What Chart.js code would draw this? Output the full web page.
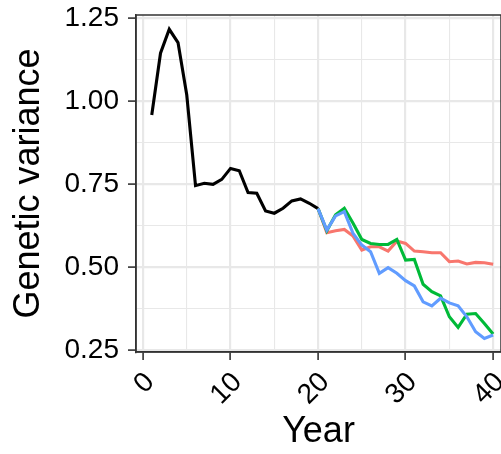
<!DOCTYPE html>
<html>
<head>
<title>Genetic variance</title>
<style>
  body { margin: 0; background: #fff; }
  canvas { display: block; }
</style>
<script src="https://cdn.jsdelivr.net/npm/chart.js"></script>
</head>
<body>
<canvas id="chart" width="501" height="454"></canvas>
<script>
// data
const baseYears = [1,2,3,4,5,6,7,8,9,10,11,12,13,14,15,16,17,18,19,20];
const baseVar = [0.958,1.144,1.216,1.176,1.018,0.745,0.752,0.749,0.764,0.797,
                 0.790,0.724,0.722,0.669,0.662,0.677,0.699,0.705,0.692,0.676];
const futureYears = [20,21,22,23,24,25,26,27,28,29,30,31,32,33,34,35,36,37,38,39,40];
const redVar = [0.676,0.603,0.609,0.613,0.593,0.551,0.561,0.561,0.548,0.578,0.571,
                0.548,0.546,0.543,0.543,0.516,0.518,0.509,0.514,0.513,0.508];
const greenVar = [0.676,0.609,0.657,0.677,0.632,0.583,0.571,0.568,0.568,0.583,0.521,
                  0.523,0.448,0.426,0.413,0.350,0.318,0.358,0.360,0.330,0.298];
const blueVar = [0.676,0.611,0.654,0.667,0.601,0.566,0.546,0.481,0.498,0.481,0.459,
                 0.443,0.395,0.383,0.406,0.392,0.383,0.350,0.305,0.285,0.295];
const xTicks = [0,5,10,15,20,25,30,35,40];
const yTicks = [0.25,0.375,0.5,0.625,0.75,0.875,1.0,1.125,1.25];

function pts(xs, ys) {
    return xs.map((x, i) => ({x: x, y: ys[i]}));
}

const fontFam = "'Liberation Sans', Arial, sans-serif";
const gridCol = "#e8e8e8";
const darkCol = "#333333";

const panelBox = {
    id: "panelBox",
    afterDraw(chart) {
        const a = chart.chartArea;
        const c = chart.ctx;
        c.save();
        c.strokeStyle = darkCol;
        c.lineWidth = 1.5;
        c.strokeRect(a.left, a.top, a.right - a.left, a.bottom - a.top);
        c.restore();
    }
};

const ctx = document.getElementById("chart").getContext("2d");
new Chart(ctx, {
    type: "line",
    data: {
        datasets: [
            { data: pts(baseYears, baseVar), borderColor: "#000000", order: 4 },
            { data: pts(futureYears, redVar), borderColor: "#F8766D", order: 3 },
            { data: pts(futureYears, greenVar), borderColor: "#00BA38", order: 2 },
            { data: pts(futureYears, blueVar), borderColor: "#619CFF", order: 1 }
        ]
    },
    options: {
        responsive: false,
        animation: false,
        layout: { padding: { top: 15, left: 0, right: 0, bottom: 0 } },
        elements: {
            line: { borderWidth: 3.1, tension: 0, fill: false },
            point: { radius: 0 }
        },
        plugins: { legend: { display: false }, tooltip: { enabled: false } },
        scales: {
            x: {
                type: "linear",
                min: -0.8,
                max: 40.9,
                afterBuildTicks: s => { s.ticks = xTicks.map(v => ({value: v})); },
                afterFit: s => { s.height = 102; s.paddingLeft = 0; s.paddingRight = 0; },
                border: { display: true, color: darkCol, width: 1.5 },
                grid: {
                    color: gridCol,
                    lineWidth: c => (c.tick && c.tick.value % 10 === 0) ? 2.2 : 1.1,
                    tickColor: c => (c.tick && c.tick.value % 10 === 0) ? darkCol : "rgba(0,0,0,0)",
                    tickWidth: 1.6,
                    tickLength: 8
                },
                ticks: {
                    autoSkip: false,
                    minRotation: 45,
                    maxRotation: 45,
                    padding: 6,
                    labelOffset: 7,
                    color: "#000",
                    font: { family: fontFam, size: 28 },
                    callback: v => (v % 10 === 0 ? String(v) : "")
                },
                title: {
                    display: true,
                    text: "Year",
                    color: "#000",
                    font: { family: fontFam, size: 36 },
                    padding: { top: 0, bottom: 0 }
                }
            },
            y: {
                type: "linear",
                min: 0.244,
                max: 1.259,
                afterBuildTicks: s => { s.ticks = yTicks.map(v => ({value: v})); },
                afterFit: s => { s.width = 136; s.paddingTop = 0; s.paddingBottom = 0; },
                border: { display: true, color: darkCol, width: 1.5 },
                grid: {
                    color: gridCol,
                    lineWidth: c => (c.tick && Math.round(c.tick.value * 8) % 2 === 0) ? 2.2 : 1.1,
                    tickColor: c => (c.tick && Math.round(c.tick.value * 8) % 2 === 0) ? darkCol : "rgba(0,0,0,0)",
                    tickWidth: 1.6,
                    tickLength: 8
                },
                ticks: {
                    autoSkip: false,
                    padding: 9,
                    color: "#000",
                    font: { family: fontFam, size: 28 },
                    callback: v => (Math.round(v * 8) % 2 === 0 ? v.toFixed(2) : "")
                },
                title: {
                    display: true,
                    text: "Genetic variance",
                    color: "#000",
                    font: { family: fontFam, size: 36 },
                    padding: { top: 7, bottom: 0 }
                }
            }
        }
    },
    plugins: [panelBox]
});
</script>
</body>
</html>
